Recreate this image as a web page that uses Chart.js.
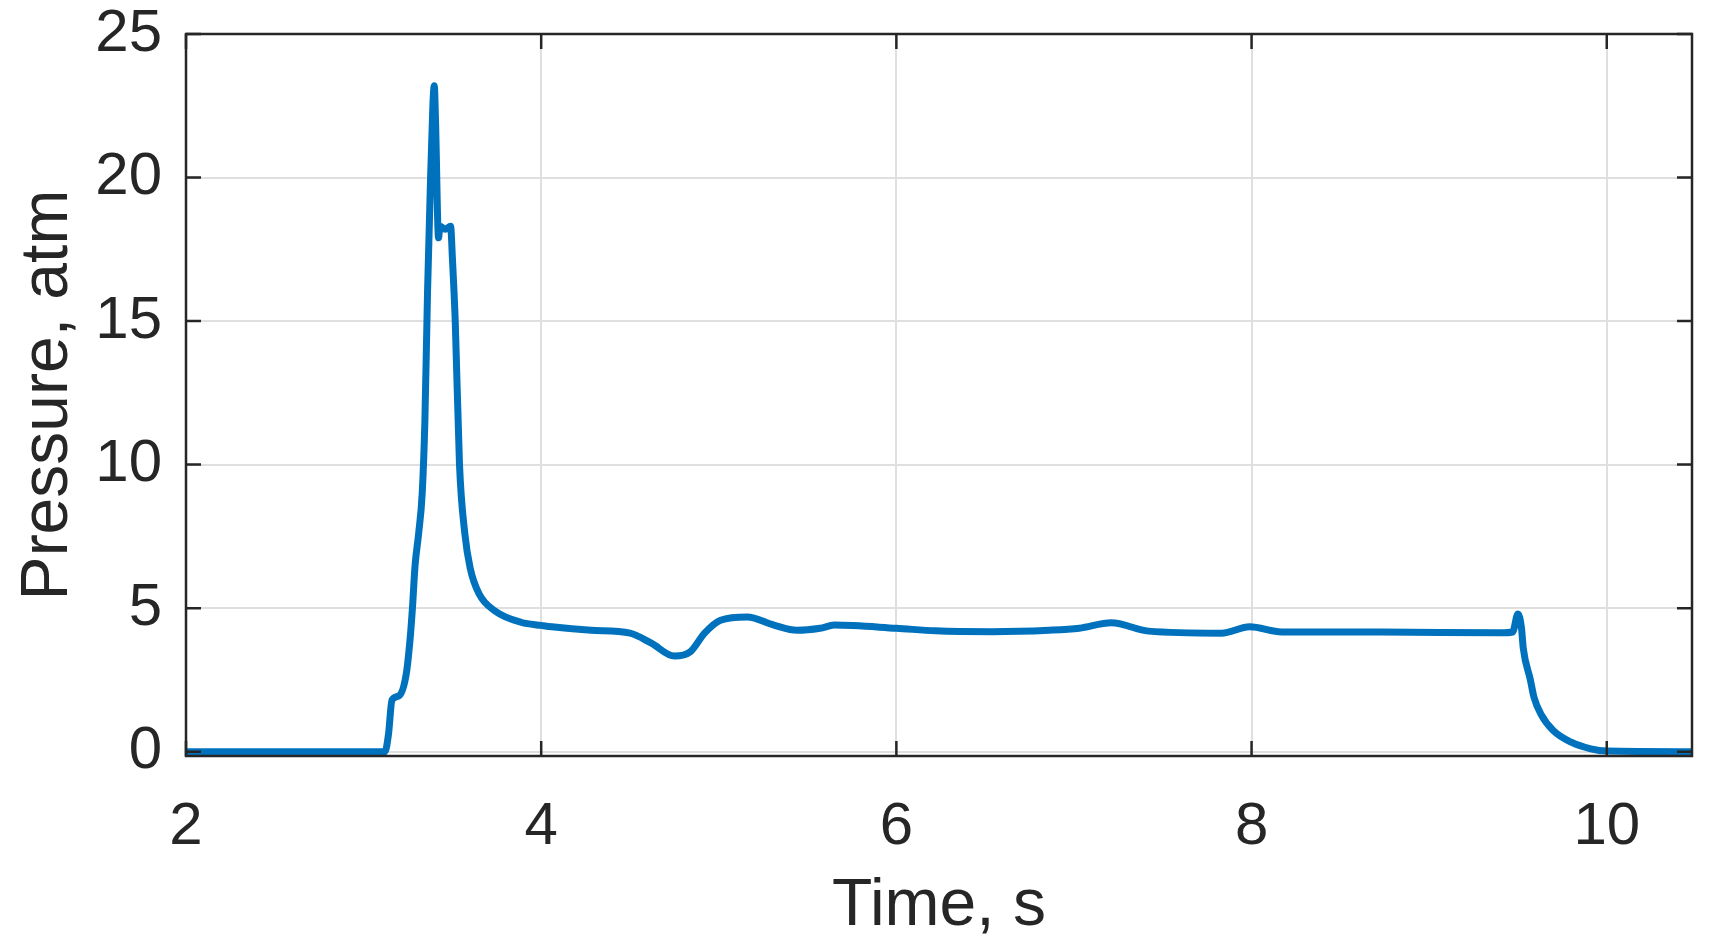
<!DOCTYPE html>
<html>
<head>
<meta charset="utf-8">
<script src="https://cdn.jsdelivr.net/npm/chart.js@4.4.1/dist/chart.umd.min.js"></script>
<style>
  html, body { margin: 0; padding: 0; background: #fff; }
  #wrap { width: 1726px; height: 951px; }
</style>
</head>
<body>
<div id="wrap"><canvas id="chartPressure"></canvas></div>
<script>
// Valores (tempo em s, pressão em atm)
const times = [2.0, 3.12, 3.14, 3.16, 3.20, 3.24, 3.26, 3.275, 3.29, 3.31, 3.33, 3.345, 3.36, 3.375,
  3.39, 3.398, 3.405, 3.422, 3.43, 3.46, 3.49, 3.50, 3.516, 3.54, 3.57, 3.60, 3.65, 3.74, 3.89,
  4.0, 4.06, 4.28, 4.50, 4.62, 4.75, 4.84, 4.92, 5.01, 5.16, 5.31, 5.44, 5.57, 5.65, 6.0, 6.22,
  6.54, 6.86, 7.03, 7.21, 7.42, 7.83, 7.99, 8.17, 8.73, 9.40, 9.47, 9.50, 9.52, 9.53, 9.57,
  9.59, 9.63, 9.70, 9.80, 9.91, 10.0, 10.48];
const pressures = [0, 0, 0.6, 1.8, 1.95, 2.7, 3.8, 5.0, 6.5, 7.6, 9.0, 11.5, 16.0, 19.5,
  22.5, 23.2, 22.0, 17.9, 18.3, 18.2, 18.3, 17.2, 15.0, 10.0, 7.6, 6.4, 5.5, 4.9, 4.5,
  4.4, 4.35, 4.23, 4.13, 3.78, 3.33, 3.48, 4.13, 4.58, 4.69, 4.41, 4.23, 4.3, 4.41, 4.3, 4.21,
  4.18, 4.23, 4.3, 4.49, 4.2, 4.13, 4.35, 4.17, 4.17, 4.14, 4.17, 4.8, 4.3, 3.6, 2.5,
  1.9, 1.3, 0.73, 0.33, 0.1, 0.02, 0];
const xTicks = [2, 4, 6, 8, 10];
const yTicks = [0, 5, 10, 15, 20, 25];

const FONT = "'Liberation Sans', Arial, Helvetica, sans-serif";
const INK = '#262626';

// moldura com marcas para dentro (estilo MATLAB)
const boxPlugin = {
    id: 'boxTicks',
    afterDatasetsDraw(chart) {
        const { ctx, chartArea: a, scales: { x, y } } = chart;
        const len = 15;
        ctx.save();
        ctx.strokeStyle = INK;
        ctx.lineWidth = 2.5;
        ctx.beginPath();
        xTicks.forEach(v => {
            const px = x.getPixelForValue(v);
            ctx.moveTo(px, a.bottom); ctx.lineTo(px, a.bottom - len);
            ctx.moveTo(px, a.top); ctx.lineTo(px, a.top + len);
        });
        yTicks.forEach(v => {
            const py = y.getPixelForValue(v);
            ctx.moveTo(a.left, py); ctx.lineTo(a.left + len, py);
            ctx.moveTo(a.right, py); ctx.lineTo(a.right - len, py);
        });
        ctx.stroke();
        ctx.strokeRect(a.left, a.top, a.right - a.left, a.bottom - a.top);
        ctx.restore();
    }
};

new Chart(document.getElementById('chartPressure'), {
    type: 'line',
    data: {
        datasets: [{
            data: times.map((t, i) => ({ x: t, y: pressures[i] })),
            borderColor: '#0072BD',
            borderWidth: 7,
            pointRadius: 0,
            cubicInterpolationMode: 'monotone',
            fill: false
        }]
    },
    options: {
        responsive: true,
        maintainAspectRatio: false,
        animation: false,
        layout: { padding: { top: 34, right: 34, left: 0, bottom: 0 } },
        plugins: { legend: { display: false }, tooltip: { enabled: false } },
        scales: {
            x: {
                type: 'linear',
                min: 2,
                max: 10.48,
                afterBuildTicks: s => { s.ticks = xTicks.map(v => ({ value: v })); },
                afterFit: s => { s.height = 195; s.paddingLeft = 0; s.paddingRight = 0; },
                grid: { color: '#dfdfdf', lineWidth: 2, drawTicks: false },
                border: { display: false },
                ticks: { color: INK, font: { family: FONT, size: 60 }, padding: 35, maxRotation: 0 },
                title: {
                    display: true, text: 'Time, s', color: INK,
                    font: { family: FONT, size: 66 }, padding: { top: 0, bottom: 5 }
                }
            },
            y: {
                min: -0.15,
                max: 25,
                afterBuildTicks: s => { s.ticks = yTicks.map(v => ({ value: v })); },
                afterFit: s => { s.width = 186; s.paddingTop = 0; s.paddingBottom = 0; },
                grid: { color: '#dfdfdf', lineWidth: 2, drawTicks: false },
                border: { display: false },
                ticks: { color: INK, font: { family: FONT, size: 60 }, padding: 24 },
                title: {
                    display: true, text: 'Pressure, atm', color: INK,
                    font: { family: FONT, size: 66 }, padding: { top: 9, bottom: 0 }
                }
            }
        }
    },
    plugins: [boxPlugin]
});
</script>
</body>
</html>
